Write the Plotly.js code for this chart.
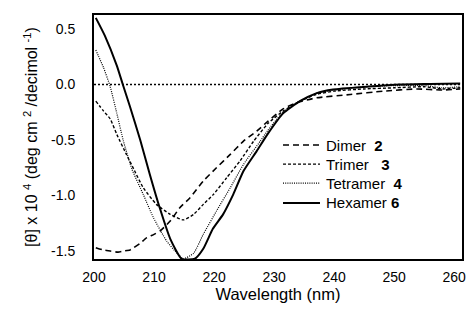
<!DOCTYPE html>
<html>
<head>
<meta charset="utf-8">
<script src="https://cdn.plot.ly/plotly-3.0.1.min.js"></script>
<style>body{margin:0;padding:0;background:#fff;}</style>
</head>
<body>
<div id="chart" style="width:471px;height:312px;"></div>
<script>
const seriesNames = ["Dimer\u00a0\u00a0<b>2</b>", "Trimer\u00a0\u00a0\u00a0<b>3</b>", "Tetramer\u00a0\u00a0<b>4</b>", "Hexamer <b>6</b>"];

const dimerWl  = [200.3, 201.5, 202.7, 204.0, 204.9, 206.0, 206.6, 207.7, 208.8, 210.0, 211.0, 212.7, 214.3, 216.0, 218.2, 220.4, 222.7, 224.9, 227.1, 229.0, 231.5, 234.0, 237.1, 242.7, 248.2, 253.8, 258.0, 261.0];
const dimerVal = [-1.47, -1.49, -1.50, -1.51, -1.50, -1.49, -1.47, -1.43, -1.38, -1.35, -1.32, -1.23, -1.11, -1.02, -0.87, -0.75, -0.63, -0.51, -0.42, -0.33, -0.22, -0.16, -0.12, -0.09, -0.06, -0.04, -0.05, -0.04];

const trimerWl  = [200.3, 201.6, 202.7, 203.8, 205.4, 206.6, 208.2, 210.4, 212.7, 214.9, 216.6, 218.2, 219.9, 222.1, 224.3, 226.6, 229.0, 231.5, 234.3, 237.0, 240.0, 245.0, 250.0, 255.0, 258.0, 261.0];
const trimerVal = [-0.15, -0.24, -0.31, -0.45, -0.63, -0.76, -0.93, -1.08, -1.17, -1.22, -1.17, -1.08, -0.99, -0.84, -0.69, -0.51, -0.35, -0.24, -0.15, -0.09, -0.06, -0.04, -0.03, -0.02, -0.04, -0.03];

const tetramerWl  = [200.3, 201.6, 202.7, 203.8, 204.9, 206.3, 208.2, 209.9, 212.1, 214.0, 214.9, 216.6, 218.2, 220.4, 222.7, 224.9, 227.7, 229.0, 231.5, 234.3, 237.0, 240.0, 245.0, 250.0, 255.0, 258.0, 261.0];
const tetramerVal = [0.31, 0.15, -0.02, -0.26, -0.51, -0.76, -0.99, -1.20, -1.41, -1.53, -1.57, -1.52, -1.35, -1.14, -0.93, -0.72, -0.51, -0.41, -0.25, -0.15, -0.08, -0.05, -0.02, -0.01, -0.01, -0.03, -0.02];

const hexamerWl  = [200.3, 201.8, 203.8, 204.8, 206.0, 207.7, 209.3, 211.0, 212.7, 214.6, 216.8, 218.2, 219.8, 221.5, 223.2, 224.9, 227.1, 229.0, 231.5, 234.3, 237.0, 239.8, 245.4, 251.0, 256.0, 261.0];
const hexamerVal = [0.60, 0.44, 0.17, 0.00, -0.20, -0.50, -0.81, -1.12, -1.39, -1.57, -1.57, -1.48, -1.30, -1.17, -0.99, -0.78, -0.60, -0.44, -0.26, -0.15, -0.08, -0.045, -0.02, 0.00, 0.005, 0.01];

const xTicks = [200, 210, 220, 230, 240, 250, 260];
const yTicks = [0.5, 0.0, -0.5, -1.0, -1.5];
const yTickLabels = ["0.5", "0.0", "-0.5", "-1.0", "-1.5"];

const fontFam = "Liberation Sans, Arial, sans-serif";

const lineStyles = [
  {color: "#000", width: 1.6, dash: "6px,4px", shape: "spline", smoothing: 0.5},
  {color: "#000", width: 1.4, dash: "3px,2px", shape: "spline", smoothing: 0.5},
  {color: "#000", width: 1.2, dash: "1px,1.2px", shape: "spline", smoothing: 0.5},
  {color: "#000", width: 2, shape: "spline", smoothing: 0.5}
];

const xs = [dimerWl, trimerWl, tetramerWl, hexamerWl];
const ys = [dimerVal, trimerVal, tetramerVal, hexamerVal];

const traces = xs.map((x, i) => ({x: x, y: ys[i], name: seriesNames[i], mode: "lines", line: lineStyles[i], showlegend: false}));

// manual legend (paper coords)
const legY = [0.467, 0.389, 0.311, 0.230];
const legendShapes = lineStyles.map((ls, i) => ({
  type: "line", xref: "paper", yref: "paper", x0: 0.5136, x1: 0.6141, y0: legY[i], y1: legY[i],
  line: {color: ls.color, width: ls.width, dash: ls.dash || "solid"}
}));
const legendAnn = seriesNames.map((n, i) => ({
  xref: "paper", yref: "paper", x: 0.625, y: legY[i], xanchor: "left", yanchor: "middle",
  text: n, showarrow: false, font: {size: 15, family: fontFam, color: "#000"}
}));

const layout = {
  width: 471, height: 312,
  margin: {l: 94, r: 9, t: 15, b: 53},
  paper_bgcolor: "#fff", plot_bgcolor: "#fff",
  font: {family: fontFam, size: 14, color: "#000"},
  showlegend: false,
  xaxis: {
    range: [200, 261.3], tickvals: xTicks, ticks: "", showgrid: false, zeroline: false,
    showline: true, mirror: true, linecolor: "#000", linewidth: 2,
    tickfont: {size: 14}, ticklabelstandoff: 4,
    title: {text: "Wavelength (nm)", font: {size: 16.5}, standoff: 5}
  },
  yaxis: {
    range: [-1.572, 0.626], tickvals: yTicks, ticktext: yTickLabels, ticks: "", showgrid: false, zeroline: false,
    showline: true, mirror: true, linecolor: "#000", linewidth: 2,
    tickfont: {size: 14}, ticklabelstandoff: 14,
    title: {text: "[θ] x 10 <sup>4</sup> (deg cm <sup>2</sup> /decimol <sup>-1</sup>)", font: {size: 16}, standoff: 9}
  },
  shapes: [{type: "line", xref: "paper", yref: "y", x0: 0, x1: 1, y0: 0, y1: 0, line: {color: "#000", width: 1.5, dash: "2px,2px"}}].concat(legendShapes),
  annotations: legendAnn
};

Plotly.newPlot("chart", traces, layout, {displayModeBar: false, staticPlot: true});
</script>
</body>
</html>
